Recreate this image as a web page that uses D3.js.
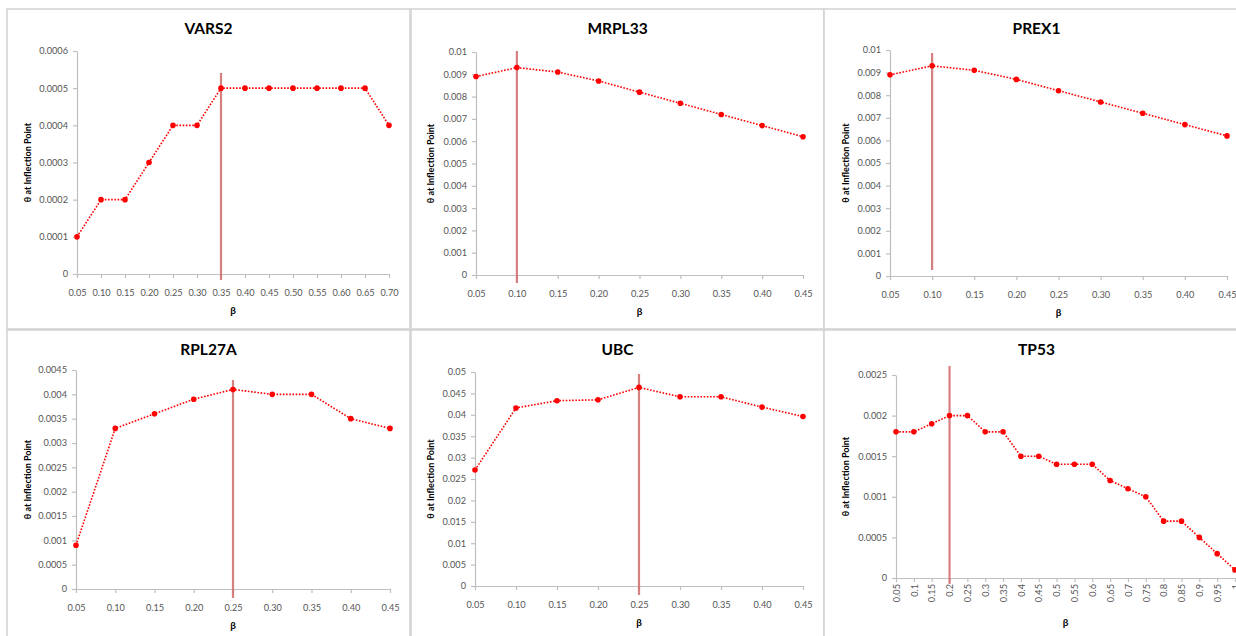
<!DOCTYPE html>
<html><head><meta charset="utf-8">
<script src="https://cdn.jsdelivr.net/npm/d3@7"></script>
<style>
html,body{margin:0;padding:0;background:#fff;}
svg{display:block;}
</style></head>
<body>
<svg id="c" width="1236" height="636"></svg>
<script>
// ---------- DATA ----------
const betaA = ["0.05","0.10","0.15","0.20","0.25","0.30","0.35","0.40","0.45","0.50","0.55","0.60","0.65","0.70"];
const betaB = ["0.05","0.10","0.15","0.20","0.25","0.30","0.35","0.40","0.45"];
const betaC = ["0.05","0.1","0.15","0.2","0.25","0.3","0.35","0.4","0.45","0.5","0.55","0.6","0.65","0.7","0.75","0.8","0.85","0.9","0.95","1"];

const vars2 = [0.0001,0.0002,0.0002,0.0003,0.0004,0.0004,0.0005,0.0005,0.0005,0.0005,0.0005,0.0005,0.0005,0.0004];
const mrpl33 = [0.0089,0.0093,0.0091,0.0087,0.0082,0.0077,0.0072,0.0067,0.0062];
const prex1 = [0.0089,0.0093,0.0091,0.0087,0.0082,0.0077,0.0072,0.0067,0.0062];
const rpl27a = [0.0009,0.0033,0.0036,0.0039,0.0041,0.0040,0.0040,0.0035,0.0033];
const ubc = [0.0271,0.0416,0.0433,0.0435,0.0464,0.0442,0.0442,0.0418,0.0396];
const tp53 = [0.0018,0.0018,0.0019,0.0020,0.0020,0.0018,0.0018,0.0015,0.0015,0.0014,0.0014,0.0014,0.0012,0.0011,0.0010,0.0007,0.0007,0.0005,0.0003,0.0001];

const ticksVars2 = ["0","0.0001","0.0002","0.0003","0.0004","0.0005","0.0006"];
const ticksMrpl = ["0","0.001","0.002","0.003","0.004","0.005","0.006","0.007","0.008","0.009","0.01"];
const ticksRpl = ["0","0.0005","0.001","0.0015","0.002","0.0025","0.003","0.0035","0.004","0.0045"];
const ticksUbc = ["0","0.005","0.01","0.015","0.02","0.025","0.03","0.035","0.04","0.045","0.05"];
const ticksTp53 = ["0","0.0005","0.001","0.0015","0.002","0.0025"];

const titles = ["VARS2","MRPL33","PREX1","RPL27A","UBC","TP53"];
const highlights = ["0.35","0.10","0.10","0.25","0.25","0.2"];
const yTitle = "θ at Inflection Point";
const xTitle = "β";

// ---------- LAYOUT ----------
const layout = [
  {cats:betaA, vals:vars2, ticks:ticksVars2, box:[7,9,403,320], p:[77,389,51,274], hl:[73,280], rot:false, yt:27},
  {cats:betaB, vals:mrpl33, ticks:ticksMrpl, box:[411,9,413,320], p:[476,803,52,275], hl:[51,283], rot:false, yt:430},
  {cats:betaB, vals:prex1, ticks:ticksMrpl, box:[824,9,425,320], p:[890,1227,50,276], hl:[53,270], rot:false, yt:845},
  {cats:betaB, vals:rpl27a, ticks:ticksRpl, box:[7,330,403,320], p:[76,390,370,589], hl:[380,598], rot:false, yt:27},
  {cats:betaB, vals:ubc, ticks:ticksUbc, box:[411,330,413,320], p:[475,803,372,586], hl:[374,595], rot:false, yt:430},
  {cats:betaC, vals:tp53, ticks:ticksTp53, box:[824,330,425,320], p:[896,1235,375,578], hl:[366,584], rot:true, yt:845}
];

const FONT = "Lato, 'Open Sans', sans-serif";
const svg = d3.select("#c");

layout.forEach((L, i) => {
  const g = svg.append("g");
  const [bx, by, bw, bh] = L.box;
  const [x0, x1, y0, y1] = L.p;
  g.append("rect").attr("x", bx).attr("y", by).attr("width", bw).attr("height", bh)
    .attr("fill", "#fff").attr("stroke", "#d4d4d4").attr("stroke-width", 1.6);

  const x = d3.scalePoint().domain(L.cats).range([x0, x1]).padding(0);
  const ymax = +L.ticks[L.ticks.length - 1];
  const y = d3.scaleLinear().domain([0, ymax]).range([y1, y0]);

  // title
  g.append("text").attr("x", bx + bw / 2).attr("y", by + 19)
    .attr("dominant-baseline", "central").attr("text-anchor", "middle")
    .attr("font-family", FONT).attr("font-weight", "bold").attr("font-size", 15.5)
    .attr("fill", "#000").text(titles[i]);

  // y axis
  const yAxis = d3.axisLeft(y).tickValues(L.ticks.map(Number))
    .tickFormat((d, k) => L.ticks[k]).tickSizeInner(4).tickSizeOuter(0).tickPadding(5);
  const ya = g.append("g").attr("transform", `translate(${x0},0)`).call(yAxis);
  ya.select(".domain").attr("stroke", "#bfbfbf").attr("stroke-width", 1.2);
  ya.selectAll(".tick line").attr("stroke", "#bfbfbf").attr("stroke-width", 1.2);
  ya.selectAll(".tick text").attr("font-family", FONT).attr("font-size", 9.2).attr("fill", "#555");

  // x axis
  const xAxis = d3.axisBottom(x).tickSizeInner(4).tickSizeOuter(0).tickPadding(L.rot ? 6 : 11);
  const xa = g.append("g").attr("transform", `translate(0,${y1})`).call(xAxis);
  xa.select(".domain").attr("stroke", "#bfbfbf").attr("stroke-width", 1.2);
  xa.selectAll(".tick line").attr("stroke", "#bfbfbf").attr("stroke-width", 1.2);
  const xt = xa.selectAll(".tick text").attr("font-family", FONT).attr("font-size", 9.2).attr("fill", "#555");
  if (L.rot) {
    xt.attr("transform", "rotate(-90)").attr("text-anchor", "end")
      .attr("x", -6).attr("y", 0).attr("dy", "0.35em");
  }

  // axis titles
  g.append("text").attr("transform", `translate(${L.yt},${(y0 + y1) / 2}) rotate(-90)`)
    .attr("text-anchor", "middle").attr("dominant-baseline", "central")
    .attr("font-family", FONT).attr("font-weight", "bold").attr("font-size", 9)
    .attr("fill", "#000").text(yTitle);
  g.append("text").attr("x", (x0 + x1) / 2).attr("y", y1 + (L.rot ? 44 : 36))
    .attr("text-anchor", "middle").attr("dominant-baseline", "central")
    .attr("font-family", FONT).attr("font-weight", "bold").attr("font-size", 10)
    .attr("fill", "#000").text(xTitle);

  // highlight line
  g.append("line").attr("x1", x(highlights[i])).attr("x2", x(highlights[i]))
    .attr("y1", L.hl[0]).attr("y2", L.hl[1])
    .attr("stroke", "#d06a6a").attr("stroke-opacity", 0.85).attr("stroke-width", 2.2);

  // series
  const pts = L.cats.map((c, k) => [c, L.vals[k]]);
  g.append("path").datum(pts)
    .attr("d", d3.line().x(d => x(d[0])).y(d => y(d[1])))
    .attr("fill", "none").attr("stroke", "#f00").attr("stroke-width", 1.6)
    .attr("stroke-dasharray", "1.6,1.6");
  g.selectAll("circle.pt").data(pts).enter().append("circle")
    .attr("cx", d => x(d[0])).attr("cy", d => y(d[1])).attr("r", 2.8).attr("fill", "#f00");
});
</script>
</body></html>
